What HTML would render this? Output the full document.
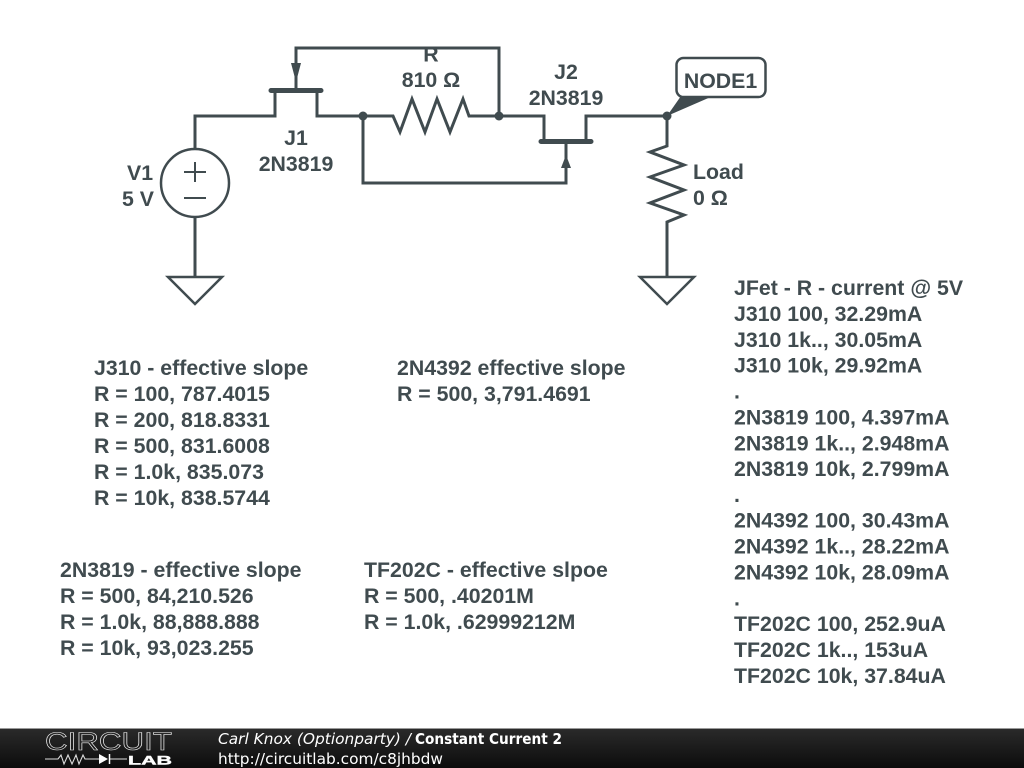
<!DOCTYPE html>
<html>
<head>
<meta charset="utf-8">
<style>
html,body{margin:0;padding:0;background:#fff;width:1024px;height:768px;overflow:hidden}
svg{display:block}
.t{font-family:"Liberation Sans",sans-serif;font-weight:700;font-size:21.3px;fill:#404b4f}
.m{text-anchor:middle}
.w{fill:none;stroke:#404b4f;stroke-width:3;stroke-linejoin:miter}
.f{font-family:"DejaVu Sans",sans-serif;font-size:15px;fill:#fff}
</style>
</head>
<body>
<svg width="1024" height="768" viewBox="0 0 1024 768" xmlns="http://www.w3.org/2000/svg">
<defs>
<linearGradient id="g" x1="0" y1="0" x2="0" y2="1"><stop offset="0" stop-color="#2a2a2a"/><stop offset="1" stop-color="#0c0c0c"/></linearGradient>
</defs>
<rect width="1024" height="768" fill="#fff"/>

<!-- wires -->
<path class="w" d="M195 150V116H275V90M317 90V116H393L400 132L412 99L425 132L437 99L450 132L463 99L469 116H544V141M586 141V116H667V146L650 152L684 165L650 177L684 190L650 203L684 215L667 222V277"/>
<path class="w" d="M296 90V48H499V116M566 141V183H363V116"/>
<path class="w" d="M195 217V277"/>
<!-- FET bars -->
<path d="M271 90.500H321M541 141.500H591" fill="none" stroke="#404b4f" stroke-width="5" stroke-linecap="round"/>
<!-- FET arrows -->
<path d="M296 82L291 63H301Z" fill="#404b4f"/>
<path d="M566 155L571 168H561Z" fill="#404b4f"/>
<!-- dots -->
<circle cx="363" cy="116" r="4.500" fill="#404b4f"/>
<circle cx="499" cy="116" r="4.500" fill="#404b4f"/>
<circle cx="667" cy="116" r="4.500" fill="#404b4f"/>
<!-- source -->
<circle cx="195" cy="183" r="34" fill="none" stroke="#404b4f" stroke-width="2.500"/>
<path d="M184 172H206M195 162V182M184 198H206" fill="none" stroke="#404b4f" stroke-width="2"/>
<!-- grounds -->
<path d="M168 277H222L195 304Z" fill="none" stroke="#404b4f" stroke-width="2.500"/>
<path d="M640 277H694L667 304Z" fill="none" stroke="#404b4f" stroke-width="2.500"/>
<!-- node label -->
<path d="M667 116L681 96H713Z" fill="#404b4f"/>
<rect x="676.500" y="58" width="89" height="39" rx="7" fill="#fff" stroke="#404b4f" stroke-width="2.500"/>
<text class="t m" x="720.500" y="88">NODE1</text>

<!-- component labels -->
<text class="t m" x="431" y="61.500">R</text>
<text class="t m" x="431" y="87">810 Ω</text>
<text class="t m" x="296" y="145">J1</text>
<text class="t m" x="296" y="171">2N3819</text>
<text class="t m" x="566" y="79">J2</text>
<text class="t m" x="566" y="105">2N3819</text>
<text class="t" x="127" y="180">V1</text>
<text class="t" x="122" y="206">5 V</text>
<text class="t" x="693" y="179">Load</text>
<text class="t" x="693" y="205">0 Ω</text>

<!-- block 1 -->
<text class="t" x="94" y="375">J310 - effective slope</text>
<text class="t" x="94" y="401">R = 100, 787.4015</text>
<text class="t" x="94" y="427">R = 200, 818.8331</text>
<text class="t" x="94" y="453">R = 500, 831.6008</text>
<text class="t" x="94" y="479">R = 1.0k, 835.073</text>
<text class="t" x="94" y="505">R = 10k, 838.5744</text>
<!-- block 2 -->
<text class="t" x="397" y="375">2N4392 effective slope</text>
<text class="t" x="397" y="401">R = 500, 3,791.4691</text>
<!-- block 3 -->
<text class="t" x="60" y="577">2N3819 - effective slope</text>
<text class="t" x="60" y="603">R = 500, 84,210.526</text>
<text class="t" x="60" y="629">R = 1.0k, 88,888.888</text>
<text class="t" x="60" y="655">R = 10k, 93,023.255</text>
<!-- block 4 -->
<text class="t" x="364" y="577">TF202C - effective slpoe</text>
<text class="t" x="364" y="603">R = 500, .40201M</text>
<text class="t" x="364" y="629">R = 1.0k, .62999212M</text>
<!-- block 5 -->
<text class="t" x="734" y="295">JFet - R - current @ 5V</text>
<text class="t" x="734" y="321">J310 100, 32.29mA</text>
<text class="t" x="734" y="347">J310 1k.., 30.05mA</text>
<text class="t" x="734" y="372.500">J310 10k, 29.92mA</text>
<text class="t" x="734" y="398.500">.</text>
<text class="t" x="734" y="424.500">2N3819 100, 4.397mA</text>
<text class="t" x="734" y="450.500">2N3819 1k.., 2.948mA</text>
<text class="t" x="734" y="476">2N3819 10k, 2.799mA</text>
<text class="t" x="734" y="502">.</text>
<text class="t" x="734" y="527.500">2N4392 100, 30.43mA</text>
<text class="t" x="734" y="553.500">2N4392 1k.., 28.22mA</text>
<text class="t" x="734" y="579.500">2N4392 10k, 28.09mA</text>
<text class="t" x="734" y="605.500">.</text>
<text class="t" x="734" y="631">TF202C 100, 252.9uA</text>
<text class="t" x="734" y="657">TF202C 1k.., 153uA</text>
<text class="t" x="734" y="683">TF202C 10k, 37.84uA</text>

<!-- footer -->
<rect x="0" y="728" width="1024" height="1" fill="#999"/>
<rect x="0" y="729" width="1024" height="39" fill="url(#g)"/>
<text x="45" y="750" font-family="Liberation Sans,sans-serif" font-size="25" textLength="127" lengthAdjust="spacingAndGlyphs" fill="none" stroke="#eee" stroke-width="0.600">CIRCUIT</text>
<text x="128" y="764.500" font-family="Liberation Sans,sans-serif" font-size="12" font-weight="700" textLength="44" lengthAdjust="spacingAndGlyphs" fill="#fff" stroke="#fff" stroke-width="0.400">LAB</text>
<path d="M45 759H58L61 755L64 764L68 755L72 764L76 755L79 764L83 755L85 759H99M110 759H127" fill="none" stroke="#ddd" stroke-width="1.100"/>
<path d="M99 754V764L108 759Z" fill="#fff"/>
<path d="M109.500 754V764" stroke="#fff" stroke-width="1.500"/>
<text class="f" x="218" y="744" textLength="193" lengthAdjust="spacingAndGlyphs" font-style="italic">Carl Knox (Optionparty) /</text>
<text class="f" x="415" y="744" font-weight="700" textLength="147" lengthAdjust="spacingAndGlyphs">Constant Current 2</text>
<text class="f" x="218" y="764" textLength="225" lengthAdjust="spacingAndGlyphs">http://circuitlab.com/c8jhbdw</text>
</svg>
</body>
</html>
